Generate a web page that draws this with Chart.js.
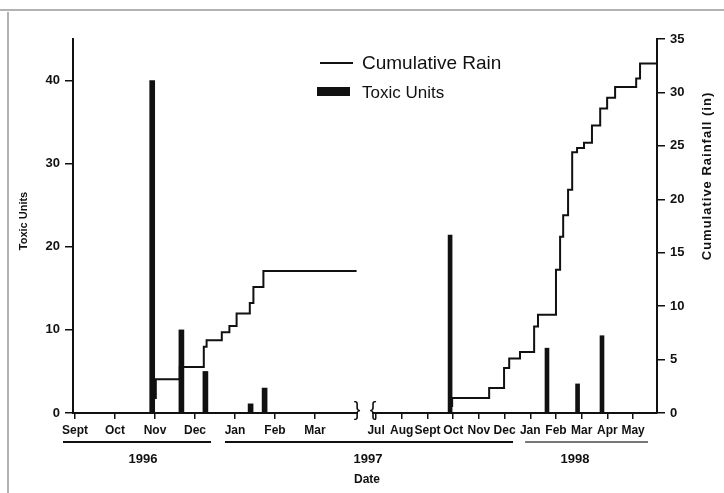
<!DOCTYPE html>
<html>
<head>
<meta charset="utf-8">
<script src="https://cdn.jsdelivr.net/npm/chart.js@4.4.0/dist/chart.umd.min.js"></script>
<style>
  html, body { margin: 0; padding: 0; background: #fff; }
</style>
</head>
<body>
<canvas id="myChart" width="724" height="493"></canvas>
<script>
// axis is broken: first part counts months from 1 Sept 1996, second part from 1 Jul 1997
var months1 = ['Sept', 'Oct', 'Nov', 'Dec', 'Jan', 'Feb', 'Mar'];
var months2 = ['Jul', 'Aug', 'Sept', 'Oct', 'Nov', 'Dec', 'Jan', 'Feb', 'Mar', 'Apr', 'May'];
var toxicTicks = [0, 10, 20, 30, 40];
var rainTicks = [0, 5, 10, 15, 20, 25, 30, 35];

// toxic units (left axis)
var toxic1 = [
  {x: 1.93, y: 40}, {x: 2.66, y: 10}, {x: 3.26, y: 5},
  {x: 4.39, y: 1.1}, {x: 4.74, y: 3}
];
var toxic2 = [
  {x: 2.88, y: 21.4}, {x: 6.65, y: 7.8}, {x: 7.84, y: 3.5}, {x: 8.79, y: 9.3}
];

// cumulative rain (right axis), value holds until the next point
var rain1 = [
  {x: 2.02, y: 1.3}, {x: 2.62, y: 3.15}, {x: 3.22, y: 4.3}, {x: 3.29, y: 6.2},
  {x: 3.67, y: 6.8}, {x: 3.86, y: 7.55}, {x: 4.04, y: 8.15}, {x: 4.37, y: 9.3},
  {x: 4.46, y: 10.3}, {x: 4.71, y: 11.8}, {x: 4.92, y: 13.3}, {x: 7.04, y: 13.3}
];
var rain2 = [
  {x: 2.96, y: 0.56}, {x: 4.40, y: 1.4}, {x: 4.98, y: 2.34}, {x: 5.18, y: 4.2},
  {x: 5.60, y: 5.1}, {x: 6.15, y: 5.7}, {x: 6.30, y: 8.1}, {x: 7.00, y: 9.2},
  {x: 7.16, y: 13.4}, {x: 7.28, y: 16.5}, {x: 7.47, y: 18.5}, {x: 7.63, y: 20.9},
  {x: 7.82, y: 24.4}, {x: 8.09, y: 24.8}, {x: 8.40, y: 25.3}, {x: 8.72, y: 26.9},
  {x: 8.99, y: 28.5}, {x: 9.30, y: 29.5}, {x: 10.12, y: 30.5}, {x: 10.27, y: 31.3},
  {x: 10.35, y: 32.7}, {x: 10.93, y: 32.7}
];

var ink = '#111';
var fam = "'Liberation Sans', Arial, sans-serif";

var decor = {
  id: 'decor',
  afterDraw: function(chart) {
    var c = chart.ctx;
    var x1 = chart.scales.x1, x2 = chart.scales.x2;
    var area = chart.chartArea;
    c.save();
    // scan frame
    c.strokeStyle = '#999';
    c.lineWidth = 1.5;
    c.beginPath();
    c.moveTo(0, 10); c.lineTo(724, 10);
    c.moveTo(8, 12); c.lineTo(8, 493);
    c.stroke();

    // axis break
    var b1 = x1.getPixelForValue(7.05), b2 = x2.getPixelForValue(-0.12);
    c.fillStyle = '#fff';
    c.fillRect(b1 + 1, area.bottom - 3, b2 - b1 - 2, 6);
    c.fillStyle = ink;
    c.font = '20px ' + fam;
    c.textAlign = 'center';
    c.textBaseline = 'middle';
    c.fillText('}', b1, area.bottom - 3);
    c.fillText('{', b2, area.bottom - 3);

    // year bars and labels
    var years = [
      {t: '1996', a: x1.getPixelForValue(-0.3), b: x1.getPixelForValue(3.4), m: x1.getPixelForValue(1.7), col: ink},
      {t: '1997', a: x1.getPixelForValue(3.75), b: x2.getPixelForValue(5.33), m: (b1 + b2) / 2 + 3, col: ink},
      {t: '1998', a: x2.getPixelForValue(5.8), b: x2.getPixelForValue(10.58), m: x2.getPixelForValue(7.74), col: '#777'}
    ];
    c.lineWidth = 2;
    c.font = 'bold 13px ' + fam;
    years.forEach(function(y) {
      c.strokeStyle = y.col;
      c.beginPath();
      c.moveTo(y.a, 442); c.lineTo(y.b, 442);
      c.stroke();
      c.fillStyle = ink;
      c.fillText(y.t, y.m, 459);
    });
    c.font = 'bold 12px ' + fam;
    c.fillText('Date', (area.left + area.right) / 2 + 2, 480);

    // axis titles
    c.font = 'bold 11px ' + fam;
    c.save();
    c.translate(24, 221);
    c.rotate(-Math.PI / 2);
    c.fillText('Toxic Units', 0, 0);
    c.restore();
    c.save();
    c.translate(707, 176);
    c.rotate(-Math.PI / 2);
    c.font = 'bold 13px ' + fam;
    c.letterSpacing = '1px';
    c.fillText('Cumulative Rainfall (in)', 0, 0);
    c.restore();

    // legend
    c.strokeStyle = ink;
    c.lineWidth = 2;
    c.beginPath();
    c.moveTo(320, 63); c.lineTo(353, 63);
    c.stroke();
    c.fillRect(317, 87, 33, 9);
    c.textAlign = 'left';
    c.textBaseline = 'alphabetic';
    c.font = '19px ' + fam;
    c.fillText(chart.data.datasets[0].label, 362, 69);
    c.font = '17px ' + fam;
    c.fillText(chart.data.datasets[2].label, 362, 98);
    c.restore();
  }
};

function xAxis(labels, min, max) {
  return {
    type: 'linear',
    position: 'bottom',
    stack: 'date',
    stackWeight: 1,
    offset: false,
    min: min,
    max: max,
    afterBuildTicks: function(s) {
      s.ticks = labels.map(function(m, i) { return {value: i}; });
    },
    afterFit: function(s) { s.height = 80; },
    ticks: {
      callback: function(v, i) { return labels[i]; },
      autoSkip: false,
      maxRotation: 0,
      padding: 4,
      color: ink,
      font: {family: fam, size: 12, weight: 'bold'}
    },
    grid: {drawOnChartArea: false, offset: false, tickLength: 6, color: ink, lineWidth: 1.5},
    border: {color: ink, width: 2}
  };
}

function yAxis(pos, tickList, max, width) {
  return {
    type: 'linear',
    position: pos,
    min: 0,
    max: max,
    afterBuildTicks: function(s) {
      s.ticks = tickList.map(function(v) { return {value: v}; });
    },
    afterFit: function(s) { s.width = width; },
    ticks: {
      padding: 5,
      color: ink,
      font: {family: fam, size: 13, weight: 'bold'}
    },
    grid: {drawOnChartArea: false, tickLength: 8, color: ink, lineWidth: 1.5},
    border: {color: ink, width: 2}
  };
}

var ctx = document.getElementById('myChart').getContext('2d');
var myChart = new Chart(ctx, {
  type: 'bar',
  data: {
    datasets: [{
      type: 'line', label: 'Cumulative Rain', data: rain1,
      xAxisID: 'x1', yAxisID: 'y1', stepped: 'after',
      borderColor: ink, borderWidth: 2, pointRadius: 0
    }, {
      type: 'line', label: 'Cumulative Rain', data: rain2,
      xAxisID: 'x2', yAxisID: 'y1', stepped: 'after',
      borderColor: ink, borderWidth: 2, pointRadius: 0
    }, {
      label: 'Toxic Units', data: toxic1, xAxisID: 'x1', yAxisID: 'y',
      backgroundColor: ink, barThickness: 5, grouped: false
    }, {
      label: 'Toxic Units', data: toxic2, xAxisID: 'x2', yAxisID: 'y',
      backgroundColor: ink, barThickness: 4, grouped: false
    }]
  },
  options: {
    responsive: false,
    animation: false,
    layout: {padding: {top: 39, left: 0, right: 0, bottom: 0}},
    plugins: {legend: {display: false}, tooltip: {enabled: false}},
    scales: {
      x1: xAxis(months1, -0.05, 7.25),
      x2: xAxis(months2, -0.43, 10.93),
      y: yAxis('left', toxicTicks, 45, 73),
      y1: yAxis('right', rainTicks, 35, 67)
    }
  },
  plugins: [decor]
});
</script>
</body>
</html>
